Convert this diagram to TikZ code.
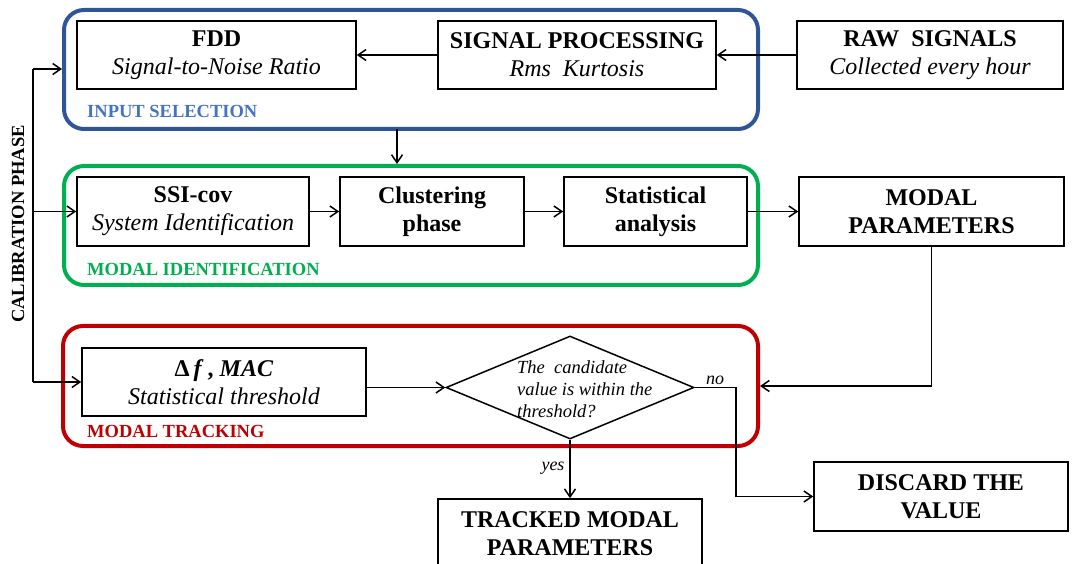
\documentclass[tikz,border=0pt]{standalone}
\usepackage{fontspec}
\setmainfont{Liberation Serif}
\usetikzlibrary{arrows.meta,shapes.geometric}
\definecolor{cblue}{HTML}{2F5597}
\definecolor{cbluet}{HTML}{4472C4}
\definecolor{cgreen}{HTML}{00B050}
\definecolor{cred}{HTML}{C00000}
\begin{document}
\begin{tikzpicture}[x=1pt,y=-1pt,
  box/.style={draw, line width=1.6pt, minimum height=68pt, inner sep=0pt, align=center, font=\fontsize{24}{28}\selectfont},
  grp/.style={draw, line width=4pt, rounded corners=20pt, inner sep=0pt},
  grplabel/.style={anchor=west, font=\bfseries\fontsize{18.5}{20}\selectfont, inner sep=0pt},
  conn/.style={line width=1.5pt, -{Straight Barb[length=8pt,width=11pt,line width=1.5pt]}},
  plainline/.style={line width=1.5pt},
  smalllab/.style={font=\itshape\fontsize{18}{20}\selectfont, inner sep=0pt}
]
\useasboundingbox (0,0) rectangle (1072,564);
\clip (0,0) rectangle (1072,564);

% containers
\node[grp, draw=cblue, minimum width=694pt, minimum height=119pt] (inp) at (411,69.5) {};
\node[grp, draw=cgreen, minimum width=694pt, minimum height=119pt] (grn) at (411,225.5) {};
\node[grp, draw=cred, minimum width=695pt, minimum height=120pt] (red) at (410.5,386) {};

\node[grplabel, text=cbluet] (lin) at (87,111) {INPUT SELECTION};
\node[grplabel, text=cgreen] (lgr) at (87,269) {MODAL IDENTIFICATION};
\node[grplabel, text=cred] (lrd) at (87,431) {MODAL TRACKING};
\node[font=\bfseries\fontsize{18.5}{20}\selectfont, rotate=90, inner sep=0pt] (cal) at (18,224) {CALIBRATION PHASE};

% boxes
\node[box, minimum width=279pt] (fdd) at (216.5,55) {\textbf{FDD}\\\textit{Signal-to-Noise Ratio}};
\node[box, minimum width=278pt] (sp) at (577,55) {\textbf{SIGNAL PROCESSING}\\\textit{Rms\ \ Kurtosis}};
\node[box, minimum width=266pt] (raw) at (930,55) {\textbf{RAW\ \ SIGNALS}\\\textit{Collected every hour}};

\node[box, minimum width=232pt, minimum height=69pt] (ssi) at (193,211.5) {\textbf{SSI-cov}\\\textit{System Identification}};
\node[box, minimum width=184pt, minimum height=69pt] (clu) at (432,211.5) {\textbf{Clustering}\\\textbf{phase}};
\node[box, minimum width=183pt, minimum height=69pt] (sta) at (655.5,211.5) {\textbf{Statistical}\\\textbf{analysis}};
\node[box, minimum width=265pt, minimum height=69pt] (mp) at (931.5,211.5) {\textbf{MODAL}\\\textbf{PARAMETERS}};

\node[box, minimum width=284pt] (df) at (224,382) {\textbf{Δ\,\textit{f}\,, \textit{MAC}}\\\textit{Statistical threshold}};
\node[diamond, draw, line width=1.5pt, minimum width=248pt, minimum height=103pt, inner sep=0pt] (dec) at (570,387.5) {};
\node[anchor=west, align=left, font=\itshape\fontsize{18.5}{22}\selectfont, inner sep=0pt] (dect) at (517,389) {The\ \ candidate\\value is within the\\threshold?};

\node[box, minimum width=254pt, minimum height=69pt] (disc) at (941,496.5) {\textbf{DISCARD THE}\\\textbf{VALUE}};
\node[box, minimum width=264pt, minimum height=69pt] (trk) at (570,533.5) {\textbf{TRACKED MODAL}\\\textbf{PARAMETERS}};

% connectors
\draw[conn] (raw.west) -- (sp.east);
\draw[conn] (sp.west) -- (fdd.east);
\coordinate (dn) at (397,129);
\draw[conn] (dn) -- (dn |- grn.north);
\draw[conn] (ssi.east) -- (clu.west);
\draw[conn] (clu.east) -- (sta.west);
\draw[conn] (sta.east) -- (mp.west);
\draw[conn] (mp.south) |- (red.east);

\coordinate (ctop) at (33,69);
\coordinate (cbot) at (33,382);
\draw[plainline] (ctop) -- (cbot);
\draw[conn] (ctop) -- (ctop -| inp.west);
\draw[conn] (cbot |- ssi.west) -- (ssi.west);
\draw[conn] (cbot) -- (df.west);

\draw[conn] (df.east |- dec.west) -- (dec.west);
\coordinate (nobend) at (736,387.5);
\draw[conn] (dec.east) -- (nobend) |- (disc.west);
\draw[conn] (dec.south) -- (trk.north);
\node[smalllab] (no) at (715,380) {no};
\node[smalllab] (yes) at (553,468) {yes};
\end{tikzpicture}
\end{document}
